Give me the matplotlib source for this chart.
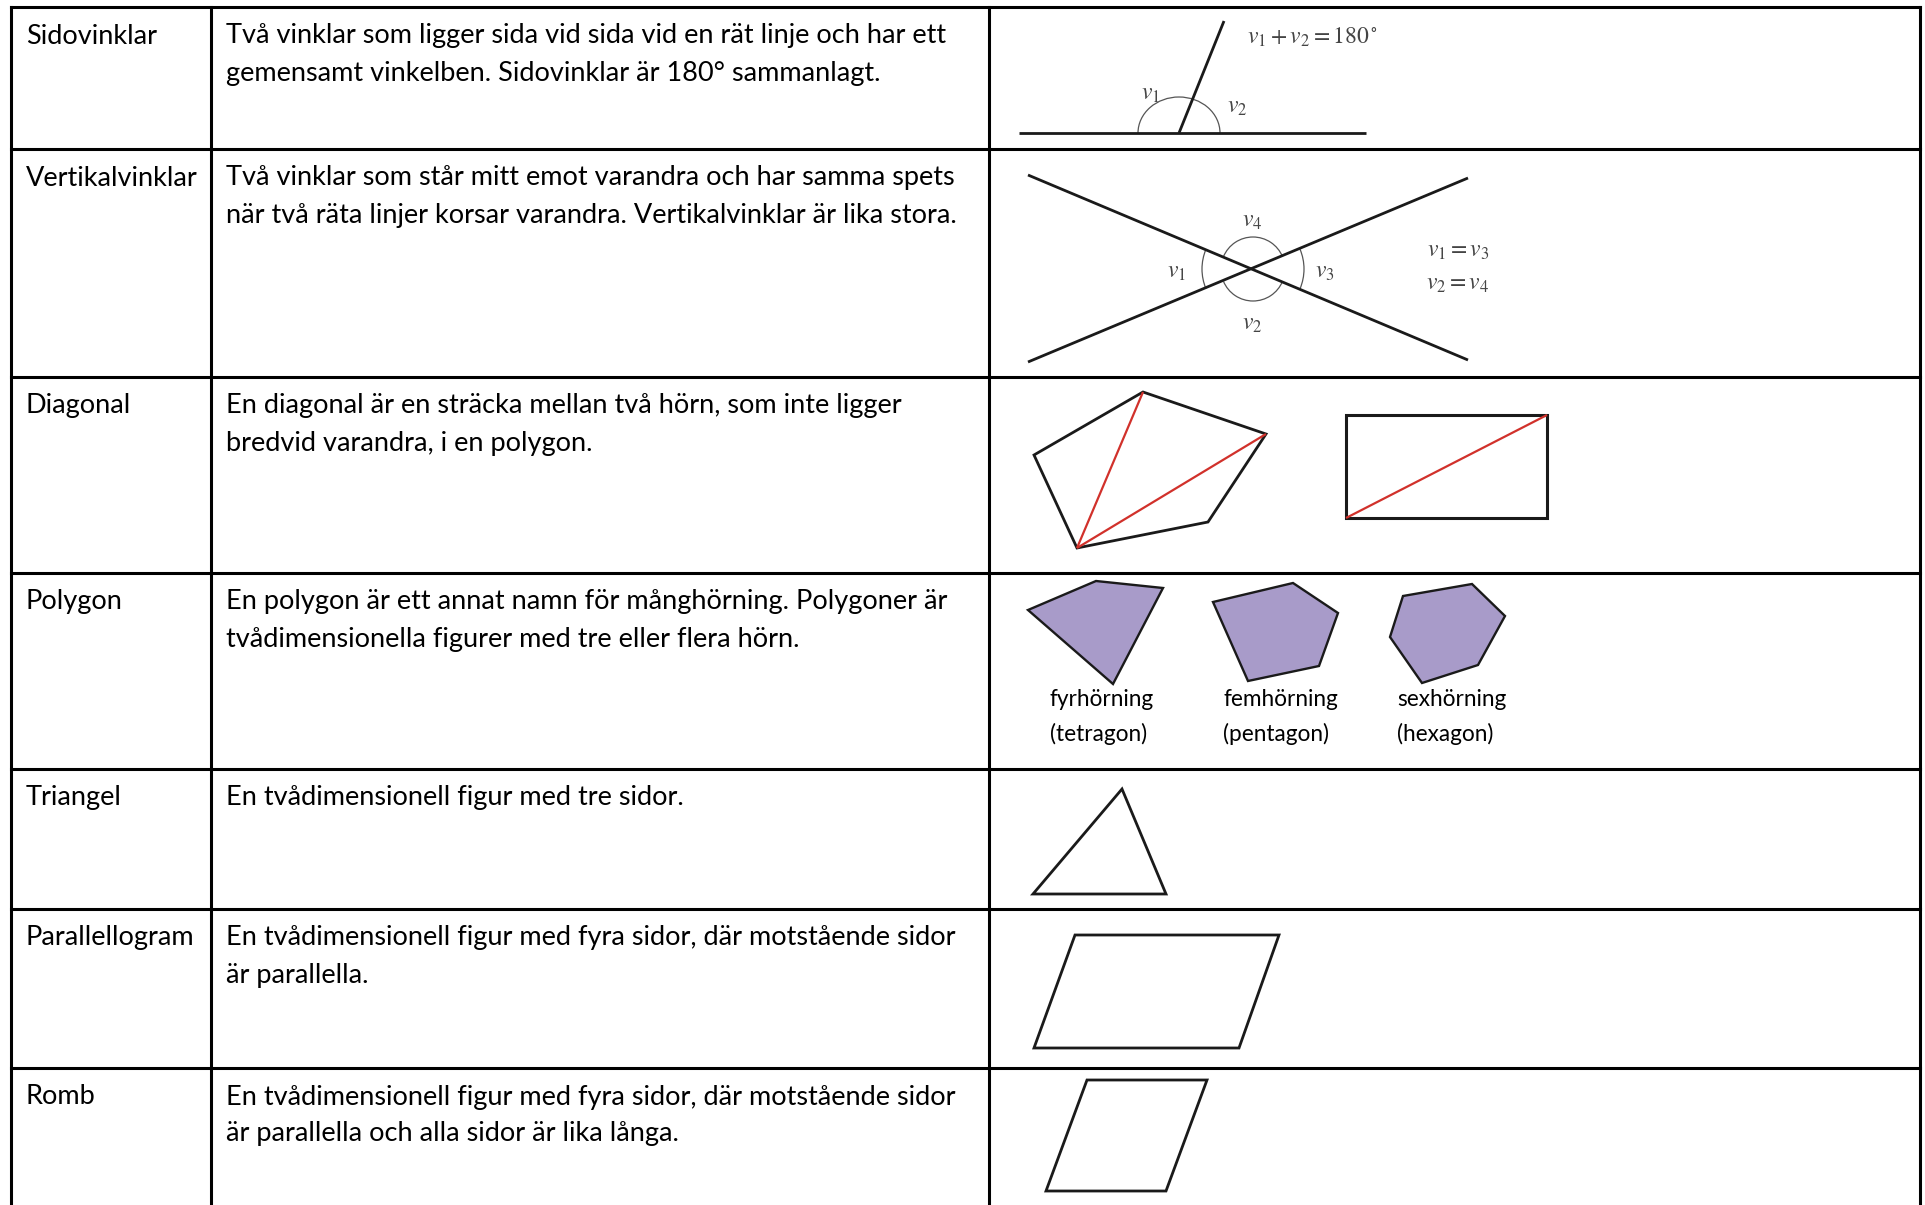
import numpy as np
import matplotlib
matplotlib.use("Agg")
import matplotlib.pyplot as plt
from matplotlib.patches import Polygon, Arc

plt.rcParams['font.family'] = ['Lato', 'DejaVu Sans']
plt.rcParams['mathtext.fontset'] = 'stix'

# table layout (pixels of the 1925x1205 page)
col_edges = [11, 211, 989, 1920]
row_edges = [7, 149, 377, 573, 769, 909, 1068, 1205]

terms = ['Sidovinklar', 'Vertikalvinklar', 'Diagonal', 'Polygon',
         'Triangel', 'Parallellogram', 'Romb']
descriptions = [
    ['Två vinklar som ligger sida vid sida vid en rät linje och har ett',
     'gemensamt vinkelben. Sidovinklar är 180° sammanlagt.'],
    ['Två vinklar som står mitt emot varandra och har samma spets',
     'när två räta linjer korsar varandra. Vertikalvinklar är lika stora.'],
    ['En diagonal är en sträcka mellan två hörn, som inte ligger',
     'bredvid varandra, i en polygon.'],
    ['En polygon är ett annat namn för månghörning. Polygoner är',
     'tvådimensionella figurer med tre eller flera hörn.'],
    ['En tvådimensionell figur med tre sidor.'],
    ['En tvådimensionell figur med fyra sidor, där motstående sidor',
     'är parallella.'],
    ['En tvådimensionell figur med fyra sidor, där motstående sidor',
     'är parallella och alla sidor är lika långa.'],
]

# figure geometry
side_base = [(1019, 133), (1366, 133)]
side_leg = [(1179, 133), (1224, 21)]

vert_line_a = [(1028, 175), (1468, 360)]
vert_line_b = [(1028, 362), (1468, 178)]

diag_pentagon = [(1034, 455), (1143, 392), (1266, 434), (1208, 522), (1077, 548)]
diag_rect = [(1346, 415), (1547, 415), (1547, 518), (1346, 518)]

tetragon = [(1028, 610), (1096, 581), (1163, 588), (1113, 684)]
pentagon = [(1213, 602), (1293, 583), (1338, 613), (1319, 666), (1248, 681)]
hexagon = [(1403, 596), (1472, 584), (1505, 616), (1478, 665), (1422, 683), (1390, 637)]
poly_names = [('fyrhörning', '(tetragon)'), ('femhörning', '(pentagon)'),
              ('sexhörning', '(hexagon)')]

triangle = [(1033, 894), (1122, 789), (1166, 894)]
parallelogram = [(1075, 935), (1279, 935), (1239, 1048), (1034, 1048)]
rhombus = [(1087, 1080), (1207, 1080), (1166, 1191), (1046, 1191)]

fig = plt.figure(figsize=(19.25, 12.05), dpi=100)
ax = fig.add_axes([0, 0, 1, 1])
ax.set_xlim(0, 1925)
ax.set_ylim(1205, 0)
ax.axis('off')

# table grid
for y in row_edges[:-1]:
    ax.plot([col_edges[0], col_edges[-1]], [y, y], color='black', lw=2.2, solid_capstyle='projecting')
for x in col_edges:
    ax.plot([x, x], [row_edges[0], row_edges[-1]], color='black', lw=2.2, solid_capstyle='projecting')

# text cells
text_size = 19.5
for i, term in enumerate(terms):
    y0 = row_edges[i] + 29
    ax.text(26, y0, term, fontsize=text_size, ha='left', va='center')
    for k, line in enumerate(descriptions[i]):
        ax.text(226, y0 + 37 * k, line, fontsize=text_size, ha='left', va='center')

ink = '#1a1a1a'
thin = '#555555'
math_col = '#444444'
msize = 17

def shape(pts, fc='none', lw=2.0):
    ax.add_patch(Polygon(pts, closed=True, fc=fc, ec=ink, lw=lw, joinstyle='miter'))

def seg(pts, color=ink, lw=2.0):
    xs, ys = zip(*pts)
    ax.plot(xs, ys, color=color, lw=lw, solid_capstyle='butt')

# row 1: sidovinklar
seg(side_base)
seg(side_leg)
ax.add_patch(Arc(side_leg[0], 82, 72, theta1=180, theta2=360, color=thin, lw=0.9))
ax.text(1151, 94, r'$v_1$', fontsize=msize, color=math_col, ha='center', va='center')
ax.text(1237, 107, r'$v_2$', fontsize=msize, color=math_col, ha='center', va='center')
ax.text(1247, 37, r'$v_1 + v_2 = 180^\circ$', fontsize=msize, color=math_col, ha='left', va='center')

# row 2: vertikalvinklar
seg(vert_line_a)
seg(vert_line_b)
cx, cy = 1253, 269
half = np.degrees(np.arctan2(vert_line_a[1][1] - vert_line_a[0][1],
                             vert_line_a[1][0] - vert_line_a[0][0]))
ax.add_patch(Arc((cx, cy), 102, 102, theta1=180 - half, theta2=180 + half, color=thin, lw=0.9))
ax.add_patch(Arc((cx, cy), 102, 102, theta1=-half, theta2=half, color=thin, lw=0.9))
ax.add_patch(Arc((cx, cy), 64, 64, theta1=180 + half, theta2=360 - half, color=thin, lw=0.9))
ax.add_patch(Arc((cx, cy), 64, 64, theta1=half, theta2=180 - half, color=thin, lw=0.9))
ax.text(1252, 221, r'$v_4$', fontsize=msize, color=math_col, ha='center', va='center')
ax.text(1177, 272, r'$v_1$', fontsize=msize, color=math_col, ha='center', va='center')
ax.text(1325, 272, r'$v_3$', fontsize=msize, color=math_col, ha='center', va='center')
ax.text(1252, 324, r'$v_2$', fontsize=msize, color=math_col, ha='center', va='center')
ax.text(1458, 251, r'$v_1 = v_3$', fontsize=msize, color=math_col, ha='center', va='center')
ax.text(1458, 284, r'$v_2 = v_4$', fontsize=msize, color=math_col, ha='center', va='center')

# row 3: diagonal
red = '#d1312b'
shape(diag_pentagon)
seg([diag_pentagon[4], diag_pentagon[1]], color=red, lw=1.6)
seg([diag_pentagon[4], diag_pentagon[2]], color=red, lw=1.6)
shape(diag_rect, lw=2.2)
seg([diag_rect[3], diag_rect[1]], color=red, lw=1.6)

# row 4: polygons
purple = '#a89bc9'
for pts in [tetragon, pentagon, hexagon]:
    shape(pts, fc=purple, lw=1.7)
x_lab = [1050, 1223, 1397]
for xl, (n1, n2) in zip(x_lab, poly_names):
    ax.text(xl, 700, n1, fontsize=16.3, ha='left', va='center')
    ax.text(xl, 734, n2, fontsize=16.3, ha='left', va='center')

# rows 5-7
shape(triangle)
shape(parallelogram)
shape(rhombus)

fig.savefig('out.png', dpi=100, facecolor='white')
